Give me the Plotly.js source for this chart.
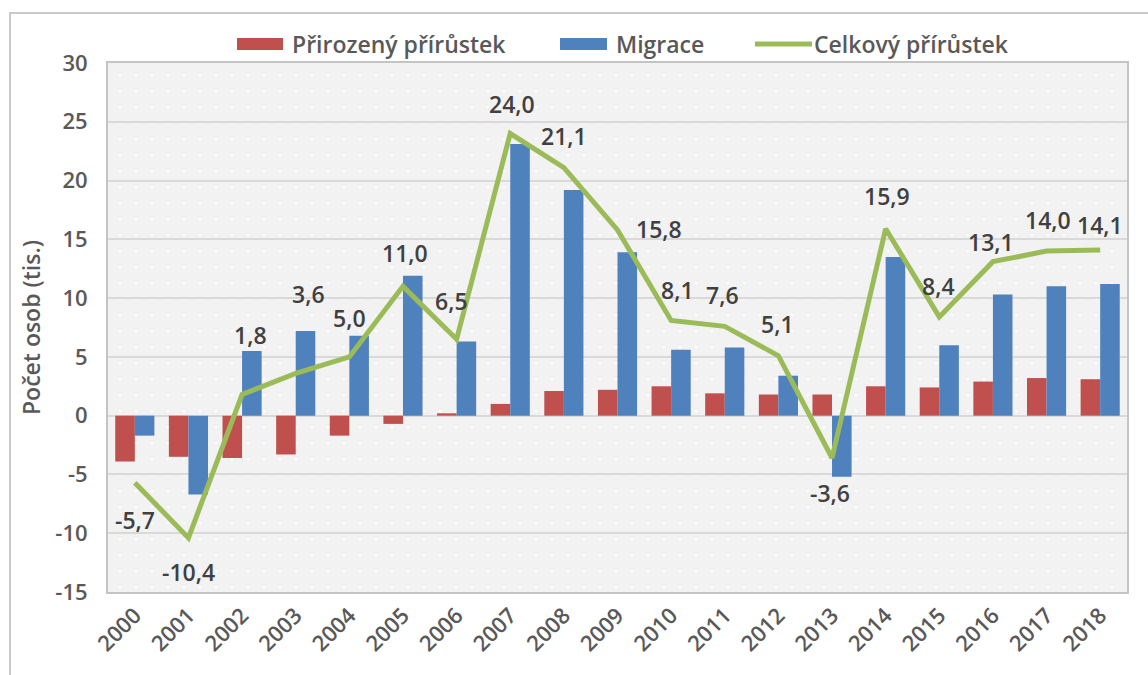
<!DOCTYPE html>
<html><head><meta charset="utf-8">
<script src="https://cdn.plot.ly/plotly-3.0.1.min.js"></script>
<style>
body{margin:0;background:#fff;overflow:hidden}
#frame{position:absolute;left:9px;top:12px;width:1200px;height:700px;border-left:2px solid #c9c9c9;border-top:2px solid #c9c9c9}
#dots{position:absolute;left:108px;top:63px;width:1019px;height:529px;background-color:#f2f2f2;background-image:radial-gradient(circle, #ffffff 1px, transparent 1.4px);background-size:16px 16px;background-position:4px 4px}
#chart{position:absolute;left:0;top:0;width:1148px;height:675px}
</style></head><body>
<div id="frame"></div><div id="dots"></div><div id="chart"></div>
<script>
// ---- data ----
const years = ['2000','2001','2002','2003','2004','2005','2006','2007','2008','2009','2010','2011','2012','2013','2014','2015','2016','2017','2018'];
const natural   = [-3.9,-3.5,-3.6,-3.3,-1.7,-0.7,0.2,1.0,2.1,2.2,2.5,1.9,1.8,1.8,2.5,2.4,2.9,3.2,3.1];
const migration = [-1.7,-6.7,5.5,7.2,6.8,11.9,6.3,23.1,19.2,13.9,5.6,5.8,3.4,-5.2,13.5,6.0,10.3,11.0,11.2];
const total     = [-5.7,-10.4,1.8,3.6,5.0,11.0,6.5,24.0,21.1,15.8,8.1,7.6,5.1,-3.6,15.9,8.4,13.1,14.0,14.1];
const seriesNames = ['Přirozený přírůstek','Migrace','Celkový přírůstek'];
const yTickVals = [-15,-10,-5,0,5,10,15,20,25,30];
const yTickText = ['-15','-10','-5','0','5','10','15','20','25','30'];
const yTitle = 'Počet osob (tis.)';

// ---- style ----
const colors = ['#C0504D','#4F81BD','#9BBB59'];
const labelShift = [[0,37],[0,34],[8,-60],[13,-79],[0,-39],[2,-33],[-5,-38],[2,-30],[0,-32],[41,-1],
                    [6,-30],[-2,-31],[-1,-32],[-2,35],[1,-33],[-1,-31],[-2,-20],[1,-31],[0,-25]];
const FONT = 'Open Sans, Noto Sans, sans-serif';
const FS = 23;
const fmt = v => v.toFixed(1).replace('.', ',');

const traces = [
  {type:'bar', x:years, y:natural, name:seriesNames[0], marker:{color:colors[0]}, hoverinfo:'skip'},
  {type:'bar', x:years, y:migration, name:seriesNames[1], marker:{color:colors[1]}, hoverinfo:'skip'},
  {type:'scatter', mode:'lines', x:years, y:total, name:seriesNames[2], line:{color:colors[2], width:5}, hoverinfo:'skip'}
];

// data labels: x given as category index on the category axis
const annotations = years.map((yr,i) => ({
  x: i, y: total[i], xref:'x', yref:'y', text: fmt(total[i]), showarrow:false,
  xanchor:'center', yanchor:'middle', xshift: labelShift[i][0], yshift: -labelShift[i][1],
  font:{family:FONT, size:FS, color:'#404040', weight:600}
}));

// custom legend (paper coords from pixel positions of plot area 108..1127 x 63..592)
const PX = p => (p-108)/1019, PY = p => (592-p)/529;
const legendItems = [
  {x0:237, x1:283, tx:290, kind:'rect'},
  {x0:560, x1:607, tx:614, kind:'rect'},
  {x0:755, x1:812, tx:812, kind:'line'}
];
const shapes = [];
legendItems.forEach((it,i) => {
  if (it.kind === 'rect') {
    shapes.push({type:'rect', xref:'paper', yref:'paper', x0:PX(it.x0), x1:PX(it.x1), y0:PY(50), y1:PY(38),
      fillcolor:colors[i], line:{width:0}});
  } else {
    shapes.push({type:'line', xref:'paper', yref:'paper', x0:PX(it.x0), x1:PX(it.x1), y0:PY(44), y1:PY(44),
      line:{color:colors[i], width:5}});
  }
  annotations.push({xref:'paper', yref:'paper', x:PX(it.tx), y:PY(44), xanchor:'left', yanchor:'middle',
    text:seriesNames[i], showarrow:false, font:{family:FONT, size:FS, color:'#595959', weight:600}});
});

const layout = {
  width:1148, height:675,
  margin:{l:108, r:21, t:63, b:83},
  paper_bgcolor:'rgba(0,0,0,0)', plot_bgcolor:'rgba(0,0,0,0)',
  showlegend:false,
  barmode:'group', bargap:0.27, bargroupgap:0,
  font:{family:FONT, size:FS, color:'#595959'},
  xaxis:{type:'category', categoryorder:'array', categoryarray:years, range:[-0.5, years.length-0.5],
    tickangle:-45, showgrid:false, zeroline:false,
    showline:true, mirror:true, linecolor:'#c4c4c4', linewidth:2, ticks:'',
    tickfont:{family:FONT, size:FS-1, color:'#595959', weight:600}},
  yaxis:{range:[-15,30], tickvals:yTickVals, ticktext:yTickText, showgrid:true, gridcolor:'#d9d9d9', gridwidth:2,
    zeroline:true, zerolinecolor:'#d9d9d9', zerolinewidth:2,
    showline:true, mirror:true, linecolor:'#c4c4c4', linewidth:2, ticks:'', ticklabelstandoff:14,
    tickfont:{family:FONT, size:FS-1, color:'#595959', weight:600},
    title:{text:yTitle, standoff:8, font:{family:FONT, size:FS, color:'#595959', weight:600}}},
  annotations: annotations,
  shapes: shapes
};
Plotly.newPlot('chart', traces, layout, {displayModeBar:false, staticPlot:true});
</script>
</body></html>
